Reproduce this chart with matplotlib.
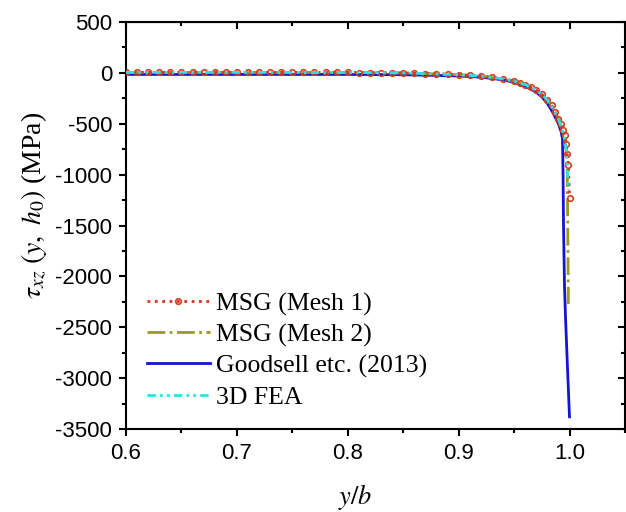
import numpy as np
import matplotlib
matplotlib.use('Agg')
import matplotlib.pyplot as plt
from matplotlib.ticker import MultipleLocator

plt.rcParams['font.family'] = 'Liberation Sans'
plt.rcParams['mathtext.fontset'] = 'stix'
plt.rcParams['axes.unicode_minus'] = False

#%% data
# MSG (Mesh 1): dense points along the edge region
x_mesh1 = [0.60, 0.61, 0.62, 0.63, 0.64, 0.65, 0.66, 0.67, 0.68, 0.69,
           0.70, 0.71, 0.72, 0.73, 0.74, 0.75, 0.76, 0.77, 0.78, 0.79,
           0.80, 0.81, 0.82, 0.83, 0.84, 0.85, 0.86, 0.87, 0.88, 0.89,
           0.90, 0.91, 0.92, 0.93, 0.94, 0.95, 0.955, 0.96, 0.965, 0.97,
           0.975, 0.98, 0.984, 0.987, 0.990, 0.992, 0.994, 0.996, 0.997,
           0.998, 0.999, 1.000]
y_mesh1 = [5, 5, 5, 5, 5, 5, 5, 5, 5, 5,
           5, 5, 5, 5, 5, 5, 5, 5, 5, 4,
           4, 3, 2, 1, 0, -2, -4, -6, -9, -13,
           -18, -24, -32, -42, -58, -80, -95, -115, -140, -170,
           -210, -265, -320, -380, -450, -505, -560, -610, -700,
           -800, -905, -1225]

x_mesh2 = [0.60, 0.70, 0.80, 0.85, 0.90, 0.92, 0.94, 0.95, 0.96, 0.97,
           0.975, 0.98, 0.985, 0.99, 0.993, 0.995, 0.997, 0.998, 0.999]
y_mesh2 = [5, 5, 4, 0, -18, -32, -58, -80, -115, -170,
           -210, -265, -350, -450, -540, -620, -750, -1000, -2270]

x_good = [0.60, 0.70, 0.80, 0.85, 0.90, 0.92, 0.94, 0.95, 0.96, 0.97,
          0.975, 0.98, 0.985, 0.99, 0.9925, 0.9937, 0.9942, 0.9946,
          0.9955, 0.9964, 0.9982, 1.000]
y_good = [-15, -15, -15, -18, -30, -42, -68, -92, -130, -190,
          -235, -300, -390, -500, -580, -650, -1000, -1500,
          -2100, -2400, -2900, -3380]

x_fea = [0.60, 0.70, 0.80, 0.85, 0.90, 0.92, 0.94, 0.95, 0.96, 0.97,
         0.975, 0.98, 0.985, 0.99, 0.993, 0.995, 0.997, 0.999]
y_fea = [5, 5, 4, 0, -18, -32, -58, -80, -115, -170,
         -210, -265, -350, -450, -540, -620, -750, -1150]

labels = ['MSG (Mesh 1)', 'MSG (Mesh 2)', 'Goodsell etc. (2013)', '3D FEA']

#%% plot
fig = plt.figure(figsize=(6.26, 5.12), dpi=100)
ax = fig.add_axes([0.2013, 0.162, 0.797, 0.795])

ax.plot(x_mesh1, y_mesh1, ls=':', c='#e03020', lw=2, marker='o', ms=4,
        mfc='none', mec='#d04020', mew=1.2, label=labels[0], zorder=4)
ax.plot(x_mesh2, y_mesh2, ls='-.', c='#9a9a1e', lw=2, label=labels[1], zorder=3)
ax.plot(x_good, y_good, ls='-', c='#1414d2', lw=2, label=labels[2], zorder=2)
ax.plot(x_fea, y_fea, ls=(0, (3, 1.5, 1, 1.5, 1, 1.5)), c='#30e0e0', lw=2,
        label=labels[3], zorder=5)

ax.set_xlim(0.6, 1.05)
ax.set_ylim(-3500, 500)
ax.xaxis.set_minor_locator(MultipleLocator(0.05))
ax.yaxis.set_major_locator(MultipleLocator(500))
ax.yaxis.set_minor_locator(MultipleLocator(250))
ax.set_xticks([0.6, 0.7, 0.8, 0.9, 1.0])
ax.set_xticklabels(['0.6', '0.7', '0.8', '0.9', '1.0'])

for s in ax.spines.values():
    s.set_linewidth(1.5)
ax.tick_params(which='both', labelsize=16, width=1.5, direction='out')
ax.tick_params(which='major', length=5, pad=5)
ax.tick_params(which='minor', length=3)
# inward ticks on top/right
ax2 = ax.secondary_xaxis('top')
ax2.xaxis.set_major_locator(MultipleLocator(0.1))
ax2.xaxis.set_minor_locator(MultipleLocator(0.05))
ax2.tick_params(which='both', direction='in', labeltop=False, width=1.5)
ax2.tick_params(which='major', length=5)
ax2.tick_params(which='minor', length=3)
ax3 = ax.secondary_yaxis('right')
ax3.yaxis.set_major_locator(MultipleLocator(500))
ax3.yaxis.set_minor_locator(MultipleLocator(250))
ax3.tick_params(which='both', direction='in', labelright=False, width=1.5)
ax3.tick_params(which='major', length=5)
ax3.tick_params(which='minor', length=3)

ax.set_xlabel(r'$y/b$', fontsize=19)
ax.xaxis.set_label_coords(0.46, -0.13)
ax.set_ylabel(r'$\tau_{xz}\ (y,\ h_0)$ (MPa)', fontsize=20, family='Liberation Serif')
ax.yaxis.set_label_coords(-0.155, 0.55)

leg = ax.legend(loc='lower left', bbox_to_anchor=(0.0, 0.0), frameon=False,
                prop={'family': 'Liberation Serif', 'size': 18.5}, handlelength=2.45,
                handletextpad=0.25, labelspacing=0.3, numpoints=1,
                borderaxespad=0.6, borderpad=0.2)

plt.savefig('out.png', dpi=100)
